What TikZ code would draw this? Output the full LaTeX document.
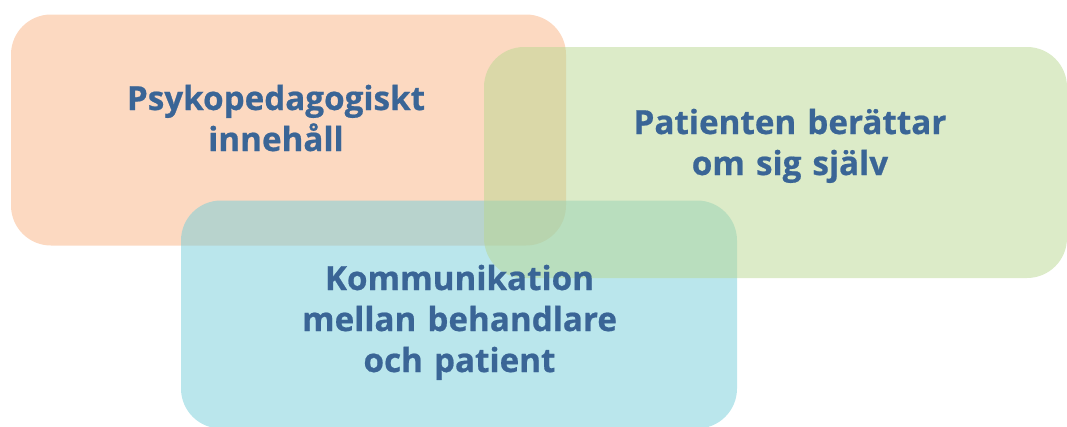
\documentclass[tikz,border=0pt]{standalone}
\usepackage{fontspec}
\setmainfont{Open Sans}[BoldFeatures={FakeBold=0.6}]
\definecolor{boxorange}{RGB}{249,179,131}
\definecolor{boxgreen}{RGB}{185,215,145}
\definecolor{boxblue}{RGB}{117,205,217}
\definecolor{labelblue}{RGB}{58,101,150}
\tikzset{
  panel/.style={rectangle, rounded corners=40pt, draw=none, fill opacity=0.5, inner sep=0pt},
  label/.style={text=labelblue, font=\fontsize{33.2}{41}\selectfont\bfseries, align=center, text width=560pt, inner sep=0pt, anchor=base}
}
\begin{document}
\begin{tikzpicture}[x=1pt,y=-1pt]
\useasboundingbox (0,0) rectangle (1067,426);
\begin{scope}
\clip (0,0) rectangle (1067,426);
\node[panel, fill=boxorange, minimum width=555pt, minimum height=231pt] (psy) at (288.5,130) {};
\node[panel, fill=boxblue, minimum width=556pt, minimum height=228pt] (kom) at (459,314.5) {};
\node[panel, fill=boxgreen, minimum width=583pt, minimum height=231pt] (pat) at (775.5,162.5) {};
\end{scope}
\node[label] (psytext) at (276,110) {Psykopedagogiskt\\innehåll};
\node[label] (pattext) at (790,134) {Patienten berättar\\om sig själv};
\node[label] (komtext) at (459.5,290) {Kommunikation\\mellan behandlare\\och patient};
\end{tikzpicture}
\end{document}
